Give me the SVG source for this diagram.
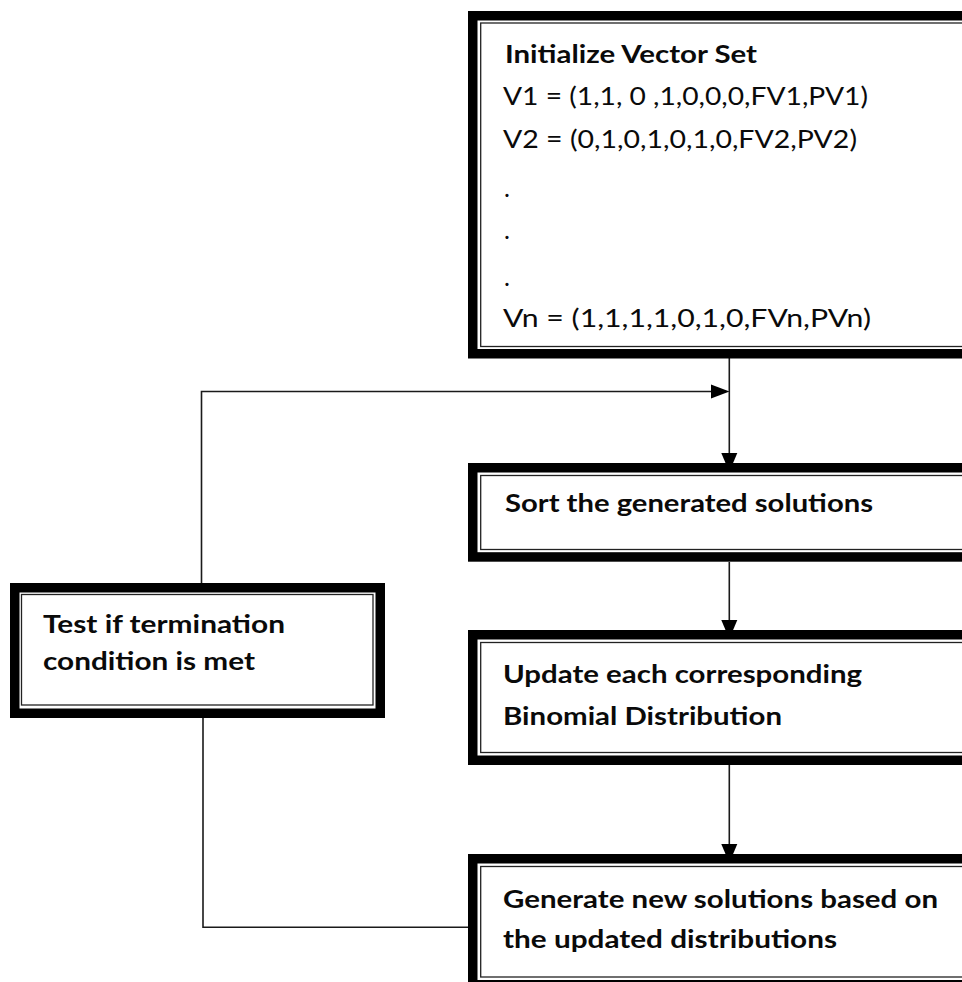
<svg xmlns="http://www.w3.org/2000/svg" width="962" height="982" viewBox="0 0 962 982">
<style>
.thick{fill:#fff;stroke:#000;stroke-width:9.5}
.thin{fill:none;stroke:#222;stroke-width:1.3}
.ln{fill:none;stroke:#1a1a1a;stroke-width:1.6}
.ah{fill:#000}
text{font-family:Lato,"Liberation Sans",Arial,sans-serif;fill:#0a0a0a}
.b{font-weight:bold;font-size:25px}
.r{font-size:25px}
</style>
<rect width="962" height="982" fill="#fff"/>
<g id="connectors">
<path class="ln" d="M729.3,358 V463"/>
<path class="ln" d="M729.3,562 V630"/>
<path class="ln" d="M729.3,765 V854"/>
<path class="ln" d="M201.5,583 V391.5 H712"/>
<path class="ln" d="M203,718 V927.3 H468"/>
<polygon class="ah" points="711,384.5 729.5,391.5 711,398.5"/>
<polygon class="ah" points="721.3,453 737.3,453 729.3,472"/>
<polygon class="ah" points="721.3,620 737.3,620 729.3,639"/>
<polygon class="ah" points="721.3,844 737.3,844 729.3,863"/>
</g>
<g id="node-init">
<rect class="thick" x="472.75" y="15.75" width="540" height="338"/>
<rect class="thin" x="480.7" y="23" width="530" height="323.5"/>
<text class="b" x="505" y="63.3" textLength="252" lengthAdjust="spacingAndGlyphs">Initialize Vector Set</text>
<text class="r" x="503" y="105" textLength="365" lengthAdjust="spacingAndGlyphs">V1 = (1,1, 0 ,1,0,0,0,FV1,PV1)</text>
<text class="r" x="503" y="148.3" textLength="354" lengthAdjust="spacingAndGlyphs">V2 = (0,1,0,1,0,1,0,FV2,PV2)</text>
<text class="r" x="504" y="197">.</text>
<text class="r" x="504" y="239">.</text>
<text class="r" x="504" y="286">.</text>
<text class="r" x="503" y="326.7" textLength="368" lengthAdjust="spacingAndGlyphs">Vn = (1,1,1,1,0,1,0,FVn,PVn)</text>
</g>
<g id="node-sort">
<rect class="thick" x="472.75" y="467.75" width="540" height="89.2"/>
<rect class="thin" x="480.7" y="475.5" width="530" height="74"/>
<text class="b" x="505" y="511.7" textLength="368" lengthAdjust="spacingAndGlyphs">Sort the generated solutions</text>
</g>
<g id="node-update">
<rect class="thick" x="472.75" y="634.75" width="540" height="125.5"/>
<rect class="thin" x="480.7" y="642.5" width="530" height="110"/>
<text class="b" x="503" y="683.3" textLength="359" lengthAdjust="spacingAndGlyphs">Update each corresponding</text>
<text class="b" x="503" y="725" textLength="279" lengthAdjust="spacingAndGlyphs">Binomial Distribution</text>
</g>
<g id="node-generate">
<rect class="thick" x="472.75" y="858.75" width="540" height="126"/>
<rect class="thin" x="480.7" y="866.5" width="530" height="110.5"/>
<text class="b" x="503" y="908.3" textLength="435" lengthAdjust="spacingAndGlyphs">Generate new solutions based on</text>
<text class="b" x="503" y="948.3" textLength="334" lengthAdjust="spacingAndGlyphs">the updated distributions</text>
</g>
<g id="node-test">
<rect class="thick" x="14.75" y="587.75" width="365.5" height="125.5"/>
<rect class="thin" x="21.5" y="594.5" width="351.5" height="110.5"/>
<text class="b" x="43" y="633.3" textLength="242" lengthAdjust="spacingAndGlyphs">Test if termination</text>
<text class="b" x="43" y="670" textLength="212" lengthAdjust="spacingAndGlyphs">condition is met</text>
</g>
</svg>
